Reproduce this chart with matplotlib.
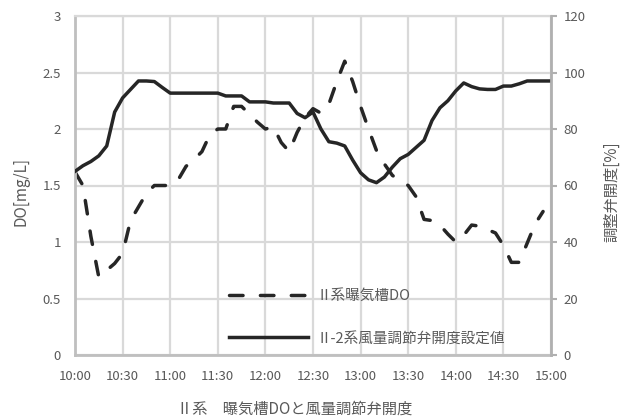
import matplotlib
matplotlib.use('Agg')
import matplotlib.pyplot as plt
import matplotlib.dates as mdates
from matplotlib.ticker import FuncFormatter
import numpy as np
import pandas as pd

plt.rcParams['font.family'] = ['Noto Sans CJK JP', 'DejaVu Sans']

# 5-minute samples, 10:00 - 15:00
times = pd.date_range('2020-01-01 10:00', '2020-01-01 15:00', freq='5min')

# II系 曝気槽 DO [mg/L] (last sample missing)
do_values = [1.62, 1.50, 1.05, 0.69, 0.75, 0.81, 0.90, 1.19, 1.31, 1.43,
             1.50, 1.50, 1.50, 1.55, 1.67, 1.73, 1.80, 1.95, 2.00, 2.00,
             2.20, 2.20, 2.13, 2.06, 2.00, 2.02, 1.88, 1.80, 1.97, 2.10,
             2.18, 2.14, 2.22, 2.42, 2.60, 2.42, 2.20, 2.00, 1.81, 1.69,
             1.59, 1.54, 1.50, 1.40, 1.20, 1.19, 1.15, 1.07, 1.00, 1.06,
             1.15, 1.14, 1.11, 1.08, 0.97, 0.82, 0.82, 0.99, 1.16, 1.27,
             np.nan]

# II-2系 風量調節弁開度設定値 [%]
valve_values = [65, 67, 68.5, 70.5, 74, 86, 91, 94, 97, 97,
                96.8, 94.7, 92.7, 92.7, 92.7, 92.7, 92.7, 92.7, 92.7, 91.7,
                91.7, 91.7, 89.6, 89.6, 89.6, 89.2, 89.2, 89.2, 85.5, 84,
                86, 80, 75.5, 75, 74, 69, 64.5, 62, 61, 63,
                66.5, 69.5, 71, 73.5, 76, 83, 87.5, 90, 93.5, 96.3,
                95, 94.2, 94, 94, 95.2, 95.2, 96, 97, 97, 97,
                97]

do_label = 'Ⅱ系曝気槽DO'
valve_label = 'Ⅱ-2系風量調節弁開度設定値'
title = 'Ⅱ系　曝気槽DOと風量調節弁開度'

text_color = '#595959'
line_color = '#262626'
grid_color = '#d9d9d9'

fig = plt.figure(figsize=(6.29, 4.18), dpi=100)
ax = fig.add_axes([75 / 629, 63 / 418, 476 / 629, 339 / 418])
ax2 = ax.twinx()

l1, = ax.plot(times, do_values, color=line_color, lw=2.5,
              linestyle=(0, (3.9, 5.0)), dash_capstyle='round', label=do_label)
l2, = ax2.plot(times, valve_values, color=line_color, lw=2.5,
               solid_joinstyle='round', label=valve_label)

ax.set_xlim(times[0], times[-1])
ax.set_ylim(0, 3)
ax2.set_ylim(0, 120)
ax.set_yticks(np.arange(0, 3.01, 0.5))
ax2.set_yticks(np.arange(0, 121, 20))
ax.yaxis.set_major_formatter(FuncFormatter(lambda v, p: f'{v:g}'))
ax.xaxis.set_major_locator(mdates.MinuteLocator(byminute=[0, 30]))
ax.xaxis.set_major_formatter(mdates.DateFormatter('%H:%M'))

ax.grid(True, color=grid_color, lw=1.6)
ax.set_axisbelow(True)

ax.tick_params(axis='both', length=0, labelsize=9.5, labelcolor=text_color)
ax.tick_params(axis='y', pad=10)
ax.tick_params(axis='x', pad=11)
ax2.tick_params(axis='y', length=4, width=1.5, color='#b0b0b0',
                labelsize=9.5, labelcolor=text_color, pad=5)

for s in ['left', 'bottom']:
    ax.spines[s].set_color('#bfbfbf')
    ax.spines[s].set_linewidth(2)
ax.spines['top'].set_color(grid_color)
ax.spines['top'].set_linewidth(1.6)
ax.spines['right'].set_visible(False)
for s in ['left', 'bottom', 'top']:
    ax2.spines[s].set_visible(False)
ax2.spines['right'].set_color('#b0b0b0')
ax2.spines['right'].set_linewidth(2)

fig.text(21 / 629, 1 - 192 / 418, 'DO[mg/L]', rotation=90, ha='center', va='center',
         fontsize=11, color=text_color)
fig.text(612 / 629, 1 - 192 / 418, '調整弁開度[%]', rotation=90, ha='center', va='center',
         fontsize=11, color=text_color)
fig.text(295 / 629, 1 - 409 / 418, title, ha='center', va='center',
         fontsize=11, color=text_color)

leg = ax2.legend(handles=[l1, l2], loc='upper left',
                 bbox_to_anchor=(229 / 629, 1 - 289 / 418), bbox_transform=fig.transFigure,
                 frameon=False, fontsize=10.5, handlelength=5.4, handletextpad=0.6,
                 labelspacing=1.95, borderpad=0, borderaxespad=0)
for t in leg.get_texts():
    t.set_color(text_color)

fig.savefig('out.png', dpi=100)
